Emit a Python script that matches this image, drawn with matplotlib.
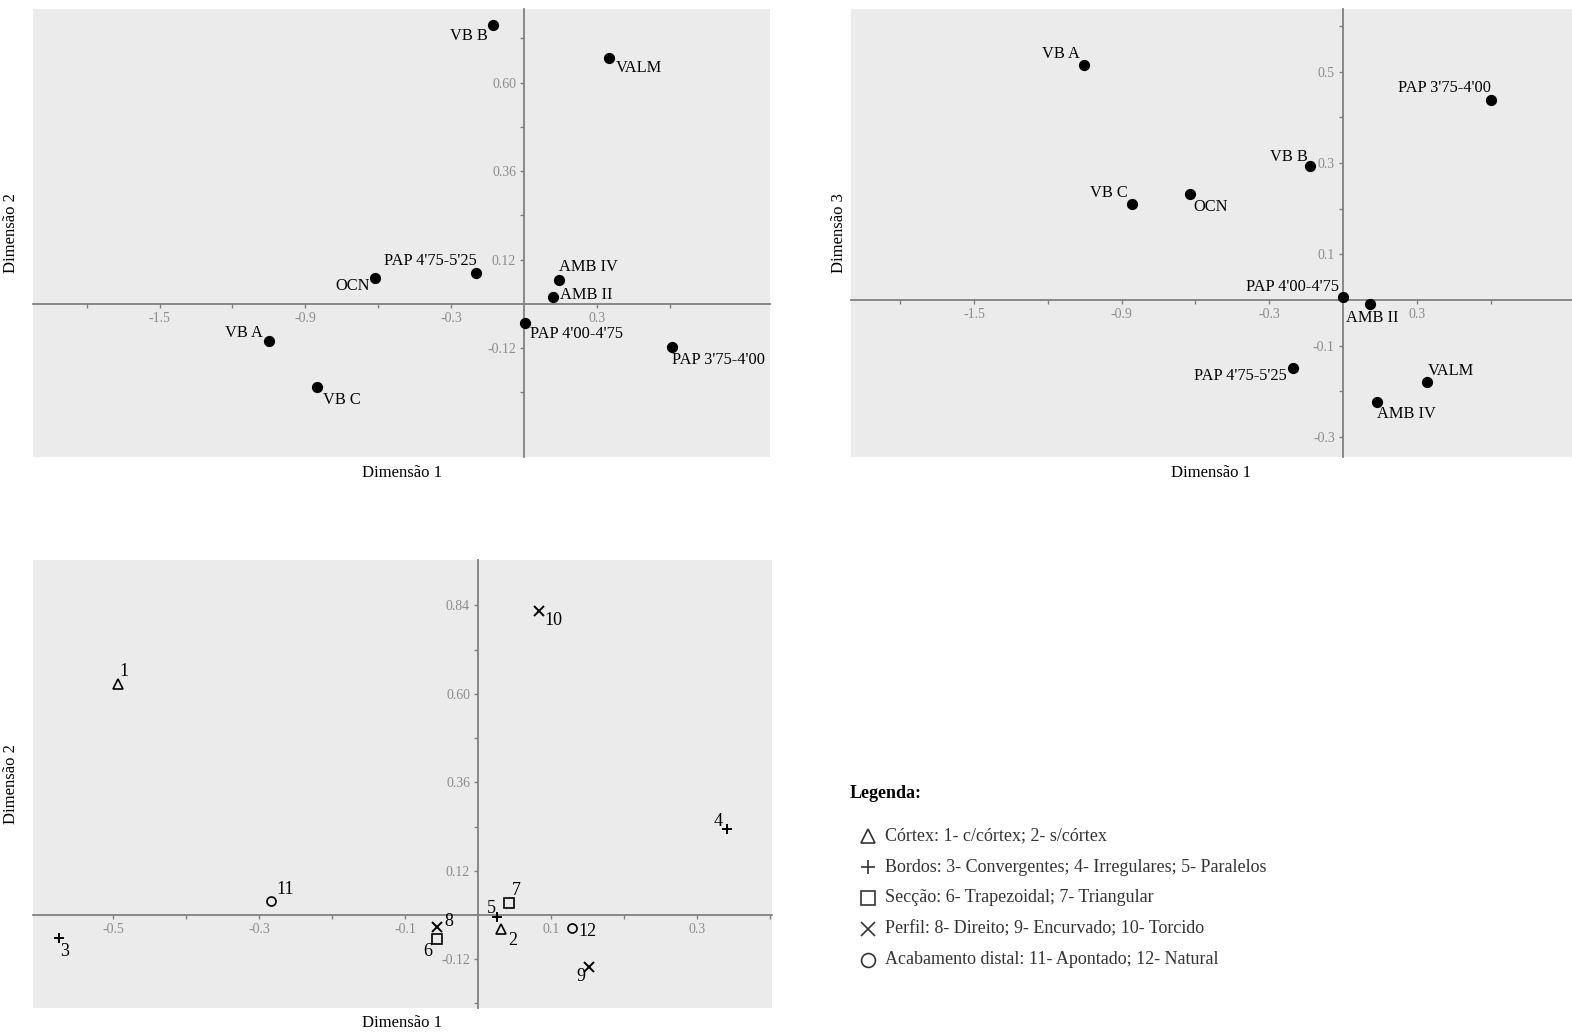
import matplotlib
matplotlib.use("Agg")
import matplotlib.pyplot as plt
from matplotlib.ticker import FixedLocator, FixedFormatter

plt.rcParams['font.family'] = ['Liberation Serif', 'DejaVu Serif']

# Dimensão 1 x Dimensão 2 (sítios)
sitios = ["VB B", "VALM", "PAP 4'75-5'25", "OCN", "AMB IV", "AMB II",
          "PAP 4'00-4'75", "PAP 3'75-4'00", "VB A", "VB C"]
d1_a = [-0.128, 0.347, -0.198, -0.614, 0.141, 0.117, 0.003, 0.606, -1.049, -0.852]
d2_a = [0.756, 0.667, 0.083, 0.071, 0.065, 0.020, -0.052, -0.116, -0.100, -0.226]

# Dimensão 1 x Dimensão 3 (sítios)
sitios_b = ["VB A", "VB C", "OCN", "VB B", "PAP 3'75-4'00", "PAP 4'00-4'75",
            "AMB II", "PAP 4'75-5'25", "VALM", "AMB IV"]
d1_b = [-1.054, -0.858, -0.621, -0.133, 0.599, -0.002, 0.111, -0.203, 0.339, 0.137]
d3_b = [0.515, 0.211, 0.232, 0.294, 0.439, 0.007, -0.008, -0.149, -0.180, -0.223]

# Dimensão 1 x Dimensão 2 (atributos)
atributos = ["1", "2", "3", "4", "5", "6", "7", "8", "9", "10", "11", "12"]
grupo = ["Córtex", "Córtex", "Bordos", "Bordos", "Bordos", "Secção", "Secção",
         "Perfil", "Perfil", "Perfil", "Acabamento", "Acabamento"]
d1_c = [-0.494, 0.031, -0.574, 0.340, 0.026, -0.056, 0.042, -0.056, 0.151, 0.083, -0.284, 0.128]
d2_c = [0.627, -0.039, -0.063, 0.232, -0.006, -0.066, 0.033, -0.032, -0.142, 0.826, 0.039, -0.034]

legenda = ["Córtex: 1- c/córtex; 2- s/córtex",
           "Bordos: 3- Convergentes; 4- Irregulares; 5- Paralelos",
           "Secção: 6- Trapezoidal; 7- Triangular",
           "Perfil: 8- Direito; 9- Encurvado; 10- Torcido",
           "Acabamento distal: 11- Apontado; 12- Natural"]
grupos = ["Córtex", "Bordos", "Secção", "Perfil", "Acabamento"]
marcadores = {"Córtex": "^", "Bordos": "+", "Secção": "s", "Perfil": "x", "Acabamento": "o"}

# posições dos rótulos (pixels: dx, dy, alinhamento)
off_a = [(-6, -11, 'right'), (7, -10, 'left'), (0, 12, 'right'), (-5, -8, 'right'),
         (0, 13, 'left'), (7, 2, 'left'), (5, -11, 'left'), (0, -13, 'left'),
         (-6, 8, 'right'), (6, -13, 'left')]
off_b = [(-4, 11, 'right'), (-4, 11, 'right'), (3, -13, 'left'), (-3, 9, 'right'),
         (0, 12, 'right'), (-4, 10, 'right'), (-24, -14, 'left'), (-6, -8, 'right'),
         (1, 11, 'left'), (0, -12, 'left')]
off_c = [(2, 12, 'left'), (7, -11, 'left'), (1, -13, 'left'), (-4, 8, 'right'),
         (-1, 9, 'right'), (-5, -12, 'right'), (3, 12, 'left'), (7, 5, 'left'),
         (-3, -9, 'right'), (5, -10, 'left'), (5, 11, 'left'), (7, -4, 'left')]

BG = '#ebebeb'
AXC = '#808080'
TXC = '#8c8c8c'


def estilo(ax, xlim, ylim, xmaj, xmin, ymaj, ymin, xlab, ylab):
    ax.set_facecolor(BG)
    ax.set_xlim(xlim)
    ax.set_ylim(ylim)
    for s in ['top', 'right']:
        ax.spines[s].set_visible(False)
    for s in ['left', 'bottom']:
        ax.spines[s].set_position('zero')
        ax.spines[s].set_color(AXC)
        ax.spines[s].set_linewidth(1.3)
    ax.xaxis.set_major_locator(FixedLocator(xmaj))
    ax.xaxis.set_major_formatter(FixedFormatter(xlab))
    ax.xaxis.set_minor_locator(FixedLocator(xmin))
    ax.yaxis.set_major_locator(FixedLocator(ymaj))
    ax.yaxis.set_major_formatter(FixedFormatter(ylab))
    ax.yaxis.set_minor_locator(FixedLocator(ymin))
    ax.tick_params(which='both', direction='out', length=3, width=1, color=AXC,
                   labelcolor=TXC, labelsize=10, pad=3)


def rotulos(ax, xs, ys, nomes, offs, fs):
    for x, y, n, (dx, dy, ha) in zip(xs, ys, nomes, offs):
        ax.annotate(n, (x, y), xytext=(dx, dy), textcoords='offset pixels',
                    ha=ha, va='center', fontsize=fs)


fig = plt.figure(figsize=(15.72, 10.35), dpi=100)

# painel 1
ax1 = fig.add_axes([0.021, 0.5585, 0.4689, 0.4329])
estilo(ax1, (-2.02, 1.01), (-0.415, 0.80),
       [-1.5, -0.9, -0.3, 0.3], [-1.8, -1.2, -0.6, 0.6],
       [-0.12, 0.12, 0.36, 0.60], [-0.24, 0.24, 0.48, 0.72],
       ['-1.5', '-0.9', '-0.3', '0.3'], ['-0.12', '0.12', '0.36', '0.60'])
ax1.scatter(d1_a, d2_a, s=50, color='black', zorder=3)
rotulos(ax1, d1_a, d2_a, sitios, off_a, 11.8)
ax1.text(0.5, -0.035, 'Dimensão 1', transform=ax1.transAxes, ha='center', va='center', fontsize=12)
ax1.text(-0.03, 0.5, 'Dimensão 2', transform=ax1.transAxes, ha='center', va='center',
         rotation=90, fontsize=12)

# painel 2
ax2 = fig.add_axes([0.5413, 0.5585, 0.4587, 0.4329])
estilo(ax2, (-2.0, 0.93), (-0.344, 0.638),
       [-1.5, -0.9, -0.3, 0.3], [-1.8, -1.2, -0.6, 0.6],
       [-0.3, -0.1, 0.1, 0.3, 0.5], [-0.2, 0.2, 0.4, 0.6],
       ['-1.5', '-0.9', '-0.3', '0.3'], ['-0.3', '-0.1', '0.1', '0.3', '0.5'])
ax2.scatter(d1_b, d3_b, s=50, color='black', zorder=3)
rotulos(ax2, d1_b, d3_b, sitios_b, off_b, 11.8)
ax2.text(0.5, -0.035, 'Dimensão 1', transform=ax2.transAxes, ha='center', va='center', fontsize=12)
ax2.text(-0.017, 0.5, 'Dimensão 3', transform=ax2.transAxes, ha='center', va='center',
         rotation=90, fontsize=12)

# painel 3
ax3 = fig.add_axes([0.021, 0.0264, 0.470, 0.4325])
estilo(ax3, (-0.610, 0.402), (-0.2515, 0.963),
       [-0.5, -0.3, -0.1, 0.1, 0.3], [-0.4, -0.2, 0.2, 0.4],
       [-0.12, 0.12, 0.36, 0.60, 0.84], [-0.24, 0.24, 0.48, 0.72],
       ['-0.5', '-0.3', '-0.1', '0.1', '0.3'], ['-0.12', '0.12', '0.36', '0.60', '0.84'])
for g in grupos:
    xs = [x for x, gg in zip(d1_c, grupo) if gg == g]
    ys = [y for y, gg in zip(d2_c, grupo) if gg == g]
    m = marcadores[g]
    if m in ('+', 'x'):
        ax3.plot(xs, ys, ls='none', marker=m, ms=6.5, mew=1.4, color='black', zorder=3)
    else:
        ax3.plot(xs, ys, ls='none', marker=m, ms=6.5, mew=1.2, mfc='none', mec='black', zorder=3)
rotulos(ax3, d1_c, d2_c, atributos, off_c, 13)
ax3.text(0.5, -0.035, 'Dimensão 1', transform=ax3.transAxes, ha='center', va='center', fontsize=12)
ax3.text(-0.03, 0.5, 'Dimensão 2', transform=ax3.transAxes, ha='center', va='center',
         rotation=90, fontsize=12)

# legenda
fig.text(850 / 1572, 1 - 793 / 1035, 'Legenda:', fontweight='bold', fontsize=13, va='center')
for i, (g, txt) in enumerate(zip(grupos, legenda)):
    yf = 1 - (836 + 31 * i) / 1035
    m = marcadores[g]
    if m in ('+', 'x'):
        fig.lines.append(plt.Line2D([0.5522], [yf], transform=fig.transFigure, marker=m, ms=10,
                                    mew=1.2, color='#333333', ls='none'))
    else:
        fig.lines.append(plt.Line2D([0.5522], [yf], transform=fig.transFigure, marker=m, ms=10,
                                    mew=1.2, mfc='none', mec='#333333', ls='none'))
    fig.text(885 / 1572, yf, txt, fontsize=13, va='center', color='#333333')

fig.savefig('out.png', dpi=100)
